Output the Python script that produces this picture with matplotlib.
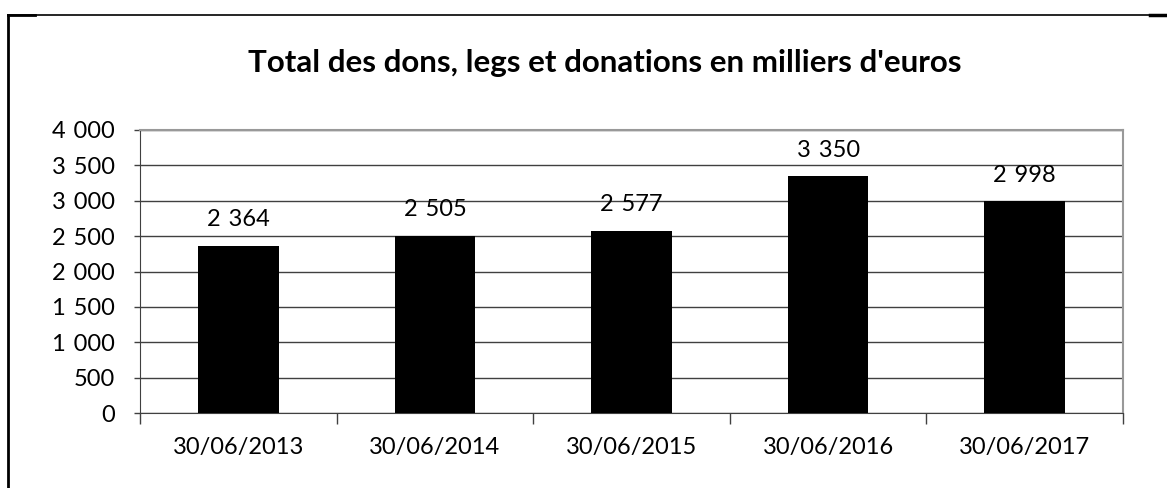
import matplotlib.pyplot as plt
from matplotlib.lines import Line2D

categories = ['30/06/2013', '30/06/2014', '30/06/2015', '30/06/2016', '30/06/2017']
values = [2364, 2505, 2577, 3350, 2998]
yticks = [0, 500, 1000, 1500, 2000, 2500, 3000, 3500, 4000]

def fmt(v):
    return f'{v:,}'.replace(',', '\u2004')

plt.rcParams['font.family'] = ['Lato', 'DejaVu Sans']

W, H = 1167, 488
fig = plt.figure(figsize=(W / 100, H / 100), dpi=100)
ax = fig.add_axes([140 / W, 1 - 413 / H, (1123 - 140) / W, (413 - 130) / H])

x = list(range(len(categories)))
ax.bar(x, values, width=0.41, color='black', zorder=3)
for xi, v in zip(x, values):
    ax.annotate(fmt(v), (xi, v), xytext=(0, 11), textcoords='offset points',
                ha='center', va='bottom', fontsize=17)

ax.set_xlim(-0.5, len(categories) - 0.5)
ax.set_ylim(0, 4000)
ax.set_yticks(yticks)
ax.set_yticklabels([fmt(t) for t in yticks], fontsize=17)
ax.yaxis.grid(True, color='#404040', linewidth=1, zorder=0)
ax.tick_params(axis='y', length=4, width=1, color='#404040', pad=14)

ax.set_xticks(x)
ax.set_xticklabels(categories, fontsize=17)
ax.tick_params(axis='x', length=0, pad=17)
ax.set_xticks([i - 0.5 for i in range(len(categories) + 1)], minor=True)
ax.tick_params(axis='x', which='minor', length=8, width=1, color='#404040')

for s in ['left', 'bottom']:
    ax.spines[s].set_color('#404040')
for s in ['top', 'right']:
    ax.spines[s].set_color('#999999')
    ax.spines[s].set_linewidth(1.5)

fig.text(605 / W, 1 - 63 / H, "Total des dons, legs et donations en milliers d'euros",
         ha='center', va='center', fontsize=22.5, fontweight='bold')

# outer frame (top and left edges)
fig.add_artist(Line2D([8 / W, 1150 / W], [1 - 15 / H, 1 - 15 / H], color='black', lw=1.2))
fig.add_artist(Line2D([8 / W, 35 / W], [1 - 15 / H, 1 - 15 / H], color='black', lw=2))
fig.add_artist(Line2D([1150 / W, 1.0], [1 - 15 / H, 1 - 15 / H], color='black', lw=2.5))
fig.add_artist(Line2D([8 / W, 8 / W], [0, 1 - 15 / H], color='black', lw=2))

fig.savefig('out.png', dpi=100)
